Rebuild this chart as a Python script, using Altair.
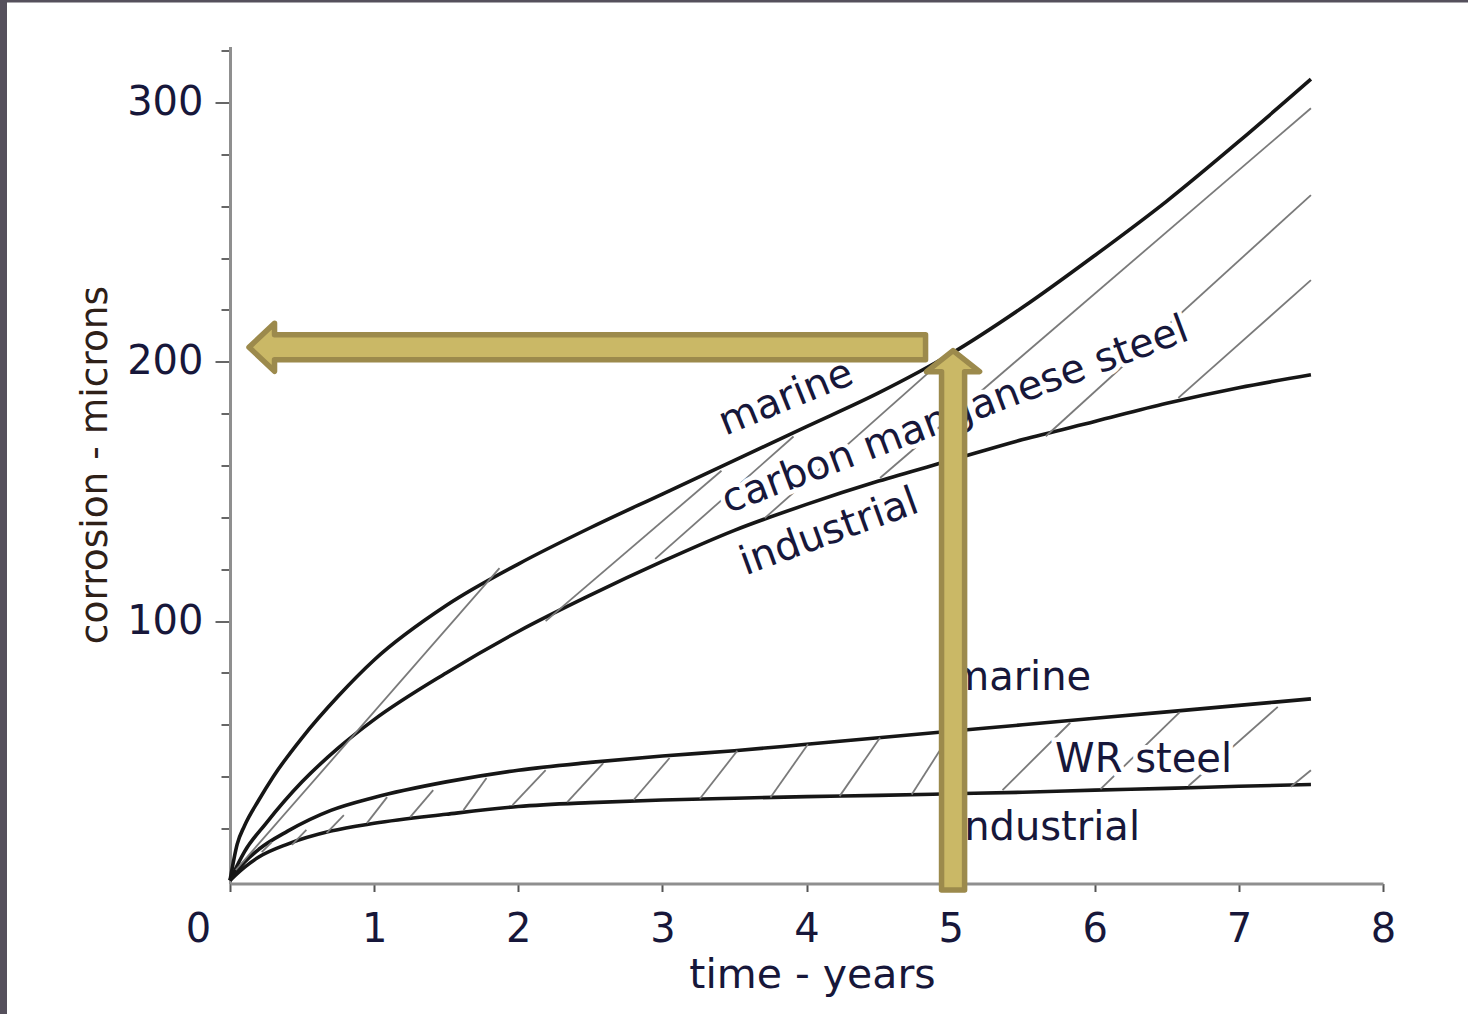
import altair as alt
import pandas as pd

# ---- corrosion curves: time in years, corrosion in microns ----
cm_marine_t = [0, 0.05, 0.1, 0.2, 0.3, 0.5, 0.75, 1.0, 1.5, 2.0, 2.5, 3.0, 3.5, 4.0, 4.5, 5.0, 5.5, 6.0, 6.5, 7.0, 7.5]
cm_marine_v = [0, 14, 21, 31, 40, 55, 71, 85, 106, 122, 136, 149, 162, 175, 188, 203, 221, 241, 262, 285, 309]

cm_industrial_t = [0, 0.1, 0.25, 0.5, 0.75, 1.0, 1.5, 2.0, 2.5, 3.0, 3.5, 4.0, 4.5, 5.0, 5.5, 6.0, 6.5, 7.0, 7.5]
cm_industrial_v = [0, 11, 22, 38, 51, 62, 80, 96, 110, 123, 135, 145, 154, 162, 170, 177, 184, 190, 195]

wr_t = [0, 0.1, 0.2, 0.4, 0.7, 1.0, 1.5, 2.0, 2.5, 3.0, 3.5, 4.0, 4.5, 5.0, 5.5, 6.0, 6.5, 7.0, 7.5]
wr_marine_v = [0, 7, 12, 19, 27, 32, 38, 42.5, 45.5, 48, 50, 52.5, 55, 57.5, 60, 62.5, 65, 67.5, 70]
wr_industrial_v = [0, 5, 9, 14, 19, 22, 25.5, 28.5, 30, 31, 31.7, 32.3, 32.8, 33.4, 34, 34.8, 35.5, 36.3, 37]

# ---- hatching between the curves (start t, start v, end t, end v) ----
cm_hatch_t0 = [0.04, 2.19, 2.95, 3.71, 4.51, 5.66, 6.58]
cm_hatch_v0 = [4.0, 100.0, 124.0, 139.7, 155.2, 171.3, 186.1]
cm_hatch_t1 = [1.87, 3.41, 3.91, 4.96, 7.50, 7.50, 7.50]
cm_hatch_v1 = [120.4, 158.0, 171.2, 201.4, 297.8, 264.3, 231.5]

wr_hatch_t0 = [0.22, 0.43, 0.67, 0.95, 1.25, 1.62, 1.96, 2.34, 2.80, 3.26, 3.75, 4.23, 4.73, 5.36, 6.04, 6.65, 7.36]
wr_hatch_v0 = [10.9, 13.7, 18.2, 22.1, 24.4, 27.1, 29.0, 30.2, 31.0, 31.5, 32.0, 32.5, 33.1, 34.8, 35.2, 36.4, 36.1]
wr_hatch_t1 = [0.29, 0.53, 0.79, 1.09, 1.41, 1.78, 2.19, 2.59, 3.05, 3.52, 4.01, 4.51, 5.01, 5.83, 6.59, 7.27, 7.50]
wr_hatch_v1 = [14.8, 19.5, 25.2, 32.1, 34.8, 39.5, 42.5, 45.2, 47.2, 50.0, 52.5, 55.0, 57.5, 60.8, 64.9, 66.9, 42.5]

# ---- curve labels ----
label_text = ["marine", "carbon manganese steel", "industrial"]
label_t = [3.858, 5.031, 4.157]
label_v = [186.0, 179.4, 134.3]
label_angle = [338, 339.4, 340]

wr_label_text = ["marine", "WR steel", "industrial"]
wr_label_t = [4.997, 5.725, 5.017]
wr_label_v = [73.4, 41.8, 15.6]

# ---- highlight arrows (polygon vertices) ----
up_arrow_t = [4.937, 4.937, 4.833, 5.017, 5.201, 5.097, 5.097]
up_arrow_v = [-3.7, 196.2, 196.2, 204.3, 196.2, 196.2, -3.7]
left_arrow_t = [4.826, 0.309, 0.309, 0.132, 0.309, 0.309, 4.826]
left_arrow_v = [210.42, 210.42, 214.86, 205.6, 196.34, 200.78, 200.78]

x_ticks = [0, 1, 2, 3, 4, 5, 6, 7, 8]
y_ticks = list(range(20, 321, 20))

FONT = "DejaVu Sans"
INK = "#17173a"
ARROW_FILL = "#cab866"
ARROW_EDGE = "#9c8a4c"

curves = pd.concat([
    pd.DataFrame({"series": "cm_marine", "t": cm_marine_t, "v": cm_marine_v}),
    pd.DataFrame({"series": "cm_industrial", "t": cm_industrial_t, "v": cm_industrial_v}),
    pd.DataFrame({"series": "wr_marine", "t": wr_t, "v": wr_marine_v}),
    pd.DataFrame({"series": "wr_industrial", "t": wr_t, "v": wr_industrial_v}),
], ignore_index=True)

hatch = pd.concat([
    pd.DataFrame({"t0": cm_hatch_t0, "v0": cm_hatch_v0, "t1": cm_hatch_t1, "v1": cm_hatch_v1}),
    pd.DataFrame({"t0": wr_hatch_t0, "v0": wr_hatch_v0, "t1": wr_hatch_t1, "v1": wr_hatch_v1}),
], ignore_index=True)

slanted = pd.DataFrame({"text": label_text, "t": label_t, "v": label_v, "angle": label_angle})
flat = pd.DataFrame({"text": wr_label_text, "t": wr_label_t, "v": wr_label_v})

arrows = pd.concat([
    pd.DataFrame({"arrow": "up", "i": range(len(up_arrow_t)), "t": up_arrow_t, "v": up_arrow_v}),
    pd.DataFrame({"arrow": "left", "i": range(len(left_arrow_t)), "t": left_arrow_t, "v": left_arrow_v}),
], ignore_index=True)

x_scale = alt.Scale(domain=[0, 8], nice=False, zero=False)
y_scale = alt.Scale(domain=[-1.2, 321.6], nice=False, zero=False)

# the origin label is set back to the left of the corner
x_axis = alt.Axis(
    values=x_ticks, format="d", title="time - years", grid=False,
    labelFlush=False, labelOverlap=False,
    labelOffset={"condition": {"test": "datum.value === 0", "value": -32}, "value": 0},
    labelFont=FONT, labelFontSize=40, labelColor=INK, labelPadding=18,
    tickSize=8, tickWidth=2, tickColor="#555555",
    domainColor="#8f8f8f", domainWidth=3,
    titleFont=FONT, titleFontSize=41, titleFontWeight="normal", titleColor=INK,
    titleX=582, titleY=104, titleBaseline="alphabetic", titleAlign="center",
)
y_axis = alt.Axis(
    values=y_ticks, format="d", title="corrosion - microns", grid=False,
    labelExpr="datum.value % 100 === 0 ? datum.label : ''",
    labelFlush=False, labelOverlap=False,
    labelFont=FONT, labelFontSize=40, labelColor=INK, labelPadding=12,
    tickSize={"condition": {"test": "datum.value % 100 === 0", "value": 15}, "value": 9},
    tickWidth=2, tickColor="#666666",
    domainColor="#8f8f8f", domainWidth=3,
    titleFont=FONT, titleFontSize=37.5, titleFontWeight="normal", titleColor="#2e2018",
    titleX=-135, titleY=418, titleAngle=270, titleBaseline="middle", titleAlign="center",
)

base_x = alt.X("t:Q", scale=x_scale, axis=x_axis)
base_y = alt.Y("v:Q", scale=y_scale, axis=y_axis)

curve_layer = alt.Chart(curves).mark_line(
    interpolate="monotone", strokeWidth=3.6, color="#161616"
).encode(x=base_x, y=base_y, detail="series:N")

hatch_layer = alt.Chart(hatch).mark_rule(strokeWidth=1.8, color="#7a7a7a").encode(
    x=alt.X("t0:Q", scale=x_scale), y=alt.Y("v0:Q", scale=y_scale),
    x2="t1:Q", y2="v1:Q",
)

slanted_halo = alt.Chart(slanted).mark_text(
    font=FONT, fontSize=40, stroke="white", strokeWidth=9, fill="white",
    align="center", baseline="middle",
).encode(x=alt.X("t:Q", scale=x_scale), y=alt.Y("v:Q", scale=y_scale),
         text="text:N", angle=alt.Angle("angle:Q", scale=None))
slanted_text = alt.Chart(slanted).mark_text(
    font=FONT, fontSize=40, color=INK, align="center", baseline="middle",
).encode(x=alt.X("t:Q", scale=x_scale), y=alt.Y("v:Q", scale=y_scale),
         text="text:N", angle=alt.Angle("angle:Q", scale=None))

flat_halo = alt.Chart(flat).mark_text(
    font=FONT, fontSize=40, stroke="white", strokeWidth=9, fill="white",
    align="left", baseline="alphabetic",
).encode(x=alt.X("t:Q", scale=x_scale), y=alt.Y("v:Q", scale=y_scale), text="text:N")
flat_text = alt.Chart(flat).mark_text(
    font=FONT, fontSize=40, color=INK, align="left", baseline="alphabetic",
).encode(x=alt.X("t:Q", scale=x_scale), y=alt.Y("v:Q", scale=y_scale), text="text:N")

arrow_layer = alt.Chart(arrows).mark_line(
    interpolate="linear-closed", fill=ARROW_FILL, stroke=ARROW_EDGE,
    strokeWidth=5.5, strokeJoin="round",
).encode(x=alt.X("t:Q", scale=x_scale), y=alt.Y("v:Q", scale=y_scale),
         detail="arrow:N", order="i:Q")

# dark strips along the left and top edges of the page
edge = pd.DataFrame({"k": [0]})
left_strip = alt.Chart(edge).mark_rect(color="#55505c").encode(
    x=alt.value(-230), x2=alt.value(-223), y=alt.value(-46.5), y2=alt.value(967.5))
top_strip = alt.Chart(edge).mark_rect(color="#55505c").encode(
    x=alt.value(-230), x2=alt.value(1238), y=alt.value(-46.5), y2=alt.value(-44))

chart = alt.layer(
    curve_layer, hatch_layer, slanted_halo, slanted_text, flat_halo, flat_text,
    arrow_layer, left_strip, top_strip,
).properties(
    width=1153, height=837,
    autosize=alt.AutoSizeParams(type="none"),
    padding={"left": 230, "top": 46.5, "right": 85, "bottom": 130.5},
    background="white",
).configure_view(stroke=None)

chart.save("out.html", embed_options={"renderer": "svg", "actions": False})
